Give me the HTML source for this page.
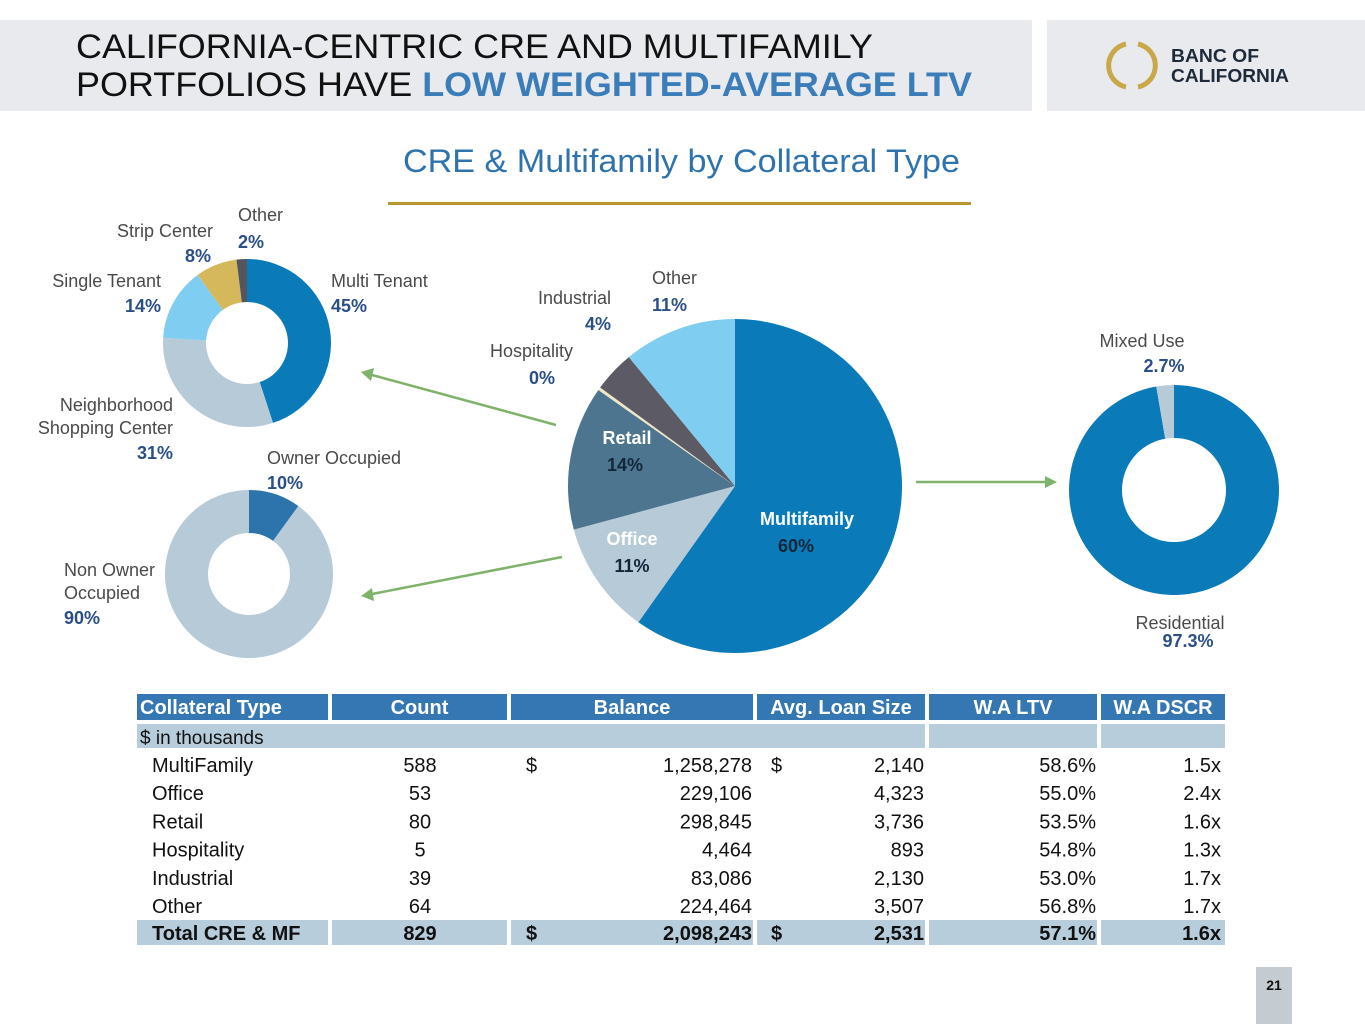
<!DOCTYPE html>
<html><head><meta charset="utf-8">
<style>
html,body{margin:0;padding:0;background:#fff;}
body{width:1365px;height:1024px;overflow:hidden;position:relative;font-family:"Liberation Sans",sans-serif;}
svg{position:absolute;left:0;top:0;}
</style></head>
<body>
<svg id="s" width="1365" height="1024" viewBox="0 0 1365 1024" xmlns="http://www.w3.org/2000/svg" font-family="Liberation Sans, sans-serif">
  <rect x="0" y="20" width="1032" height="91" fill="#e8eaed"/>
  <rect x="1047" y="20" width="318" height="91" fill="#e8eaed"/>
  <text x="76" y="58" font-size="34" fill="#111" textLength="797" lengthAdjust="spacingAndGlyphs">CALIFORNIA-CENTRIC CRE AND MULTIFAMILY</text>
  <text x="76" y="96" font-size="34" fill="#111" textLength="896" lengthAdjust="spacingAndGlyphs">PORTFOLIOS HAVE <tspan fill="#3a7db8" font-weight="bold">LOW WEIGHTED-AVERAGE LTV</tspan></text>
  <g>
    <path d="M1126 44 A22 22 0 0 0 1126 87" fill="none" stroke="#c9a84a" stroke-width="5"/>
    <path d="M1138 44 A22 22 0 0 1 1138 87" fill="none" stroke="#c9a84a" stroke-width="5"/>
  </g>
  <text x="1171" y="62" font-size="18" font-weight="bold" fill="#1e2a3a" textLength="88" lengthAdjust="spacingAndGlyphs">BANC OF</text>
  <text x="1171" y="82" font-size="18" font-weight="bold" fill="#1e2a3a" textLength="118" lengthAdjust="spacingAndGlyphs">CALIFORNIA</text>

  <text x="403" y="172" font-size="32" fill="#2f73ad" textLength="557" lengthAdjust="spacingAndGlyphs">CRE &amp; Multifamily by Collateral Type</text>
  <rect x="388" y="202" width="583" height="3" fill="#b8962e"/>

  <g id="charts"></g>
  <g id="labels" font-size="18"></g>

  <g stroke="#7fb26a" stroke-width="2.5" fill="#7fb26a">
    <line x1="556" y1="425" x2="372" y2="375"/><polygon points="361,372 374,368 371,381" stroke="none"/>
    <line x1="562" y1="557" x2="372" y2="594"/><polygon points="361,596 372,588 374,601" stroke="none"/>
    <line x1="916" y1="482" x2="1046" y2="482"/><polygon points="1057,482 1045,476 1045,488" stroke="none"/>
  </g>

  <g id="table"></g>

  <rect x="1256" y="967" width="36" height="57" fill="#c4ccd2"/>
  <text x="1274" y="990" font-size="14" font-weight="bold" fill="#111" text-anchor="middle">21</text>
</svg>
<script>
const NS="http://www.w3.org/2000/svg";
// Main pie data
const mainCats=["Multifamily","Office","Retail","Hospitality","Industrial","Other"];
const mainVals=[60,11,14,0.3,4,11];
const mainColors=["#0a7bb8","#b7cad8","#4e7590","#efe6c8","#5c5a64","#7fcdf0"];
// Retail donut
const retailCats=["Multi Tenant","Neighborhood Shopping Center","Single Tenant","Strip Center","Other"];
const retailVals=[45,31,14,8,2];
const retailColors=["#0a7bb8","#b7cad8","#7fcdf0","#d6b85c","#555560"];
// Office donut
const officeCats=["Owner Occupied","Non Owner Occupied"];
const officeVals=[10,90];
const officeColors=["#2e74ac","#b7cad8"];
// Multifamily donut
const mfCats=["Residential","Mixed Use"];
const mfVals=[97.3,2.7];
const mfColors=["#0a7bb8","#b7cad8"];

const charts=document.getElementById('charts');
function pt(cx,cy,r,a){return [cx+r*Math.sin(a),cy-r*Math.cos(a)];}
function drawPie(name,cats,vals,colors,cx,cy,r,ri){
  const g=document.createElementNS(NS,'g');
  
  
  const tot=vals.reduce((a,b)=>a+b,0);
  let a0=0;
  vals.forEach((v,i)=>{
    const a1=a0+v/tot*2*Math.PI;
    const large=(a1-a0)>Math.PI?1:0;
    const [x0,y0]=pt(cx,cy,r,a0),[x1,y1]=pt(cx,cy,r,a1);
    let d;
    if(ri>0){
      const [u0,v0]=pt(cx,cy,ri,a0),[u1,v1]=pt(cx,cy,ri,a1);
      d=`M${x0} ${y0} A${r} ${r} 0 ${large} 1 ${x1} ${y1} L${u1} ${v1} A${ri} ${ri} 0 ${large} 0 ${u0} ${v0} Z`;
    } else d=`M${cx} ${cy} L${x0} ${y0} A${r} ${r} 0 ${large} 1 ${x1} ${y1} Z`;
    const p=document.createElementNS(NS,'path');
    p.setAttribute('d',d);p.setAttribute('fill',colors[i]);
    
    
    g.appendChild(p);a0=a1;
  });
  charts.appendChild(g);
}
drawPie('collateral-pie',mainCats,mainVals,mainColors,735,486,167,0);
drawPie('retail-donut',retailCats,retailVals,retailColors,247,343,84,41);
drawPie('office-donut',officeCats,officeVals,officeColors,249,574,84,41);
drawPie('multifamily-donut',mfCats,mfVals,mfColors,1174,490,105,52);

const labels=document.getElementById('labels');
function txt(parent,x,y,s,opt){
  const t=document.createElementNS(NS,'text');
  t.setAttribute('x',x);t.setAttribute('y',y);t.textContent=s;
  t.setAttribute('fill',opt.fill||'#444');
  if(opt.bold)t.setAttribute('font-weight','bold');
  if(opt.anchor)t.setAttribute('text-anchor',opt.anchor);
  if(opt.size)t.setAttribute('font-size',opt.size);
  
  
  parent.appendChild(t);return t;
}
const G='#4a4a4a',B='#2a4f86';
const L=[
 [213,237,'Strip Center',G,0,'end'],[211,262,'8%',B,1,'end'],
 [238,221,'Other',G,0,'start'],[238,248,'2%',B,1,'start'],
 [161,287,'Single Tenant',G,0,'end'],[161,312,'14%',B,1,'end'],
 [331,287,'Multi Tenant',G,0,'start'],[331,312,'45%',B,1,'start'],
 [173,411,'Neighborhood',G,0,'end'],[173,434,'Shopping Center',G,0,'end'],[173,459,'31%',B,1,'end'],
 [267,464,'Owner Occupied',G,0,'start'],[267,489,'10%',B,1,'start'],
 [64,576,'Non Owner',G,0,'start'],[64,599,'Occupied',G,0,'start'],[64,624,'90%',B,1,'start'],
 [611,304,'Industrial',G,0,'end'],[611,330,'4%',B,1,'end'],
 [652,284,'Other',G,0,'start'],[652,311,'11%',B,1,'start'],
 [573,357,'Hospitality',G,0,'end'],[555,384,'0%',B,1,'end'],
 [627,444,'Retail','#fff',1,'middle'],[625,471,'14%','#12263a',1,'middle'],
 [632,545,'Office','#fff',1,'middle'],[632,572,'11%','#12263a',1,'middle'],
 [807,525,'Multifamily','#fff',1,'middle'],[796,552,'60%','#12263a',1,'middle'],
 [1142,347,'Mixed Use',G,0,'middle'],[1164,372,'2.7%',B,1,'middle'],
 [1180,629,'Residential',G,0,'middle'],[1188,647,'97.3%',B,1,'middle']
];
L.forEach((l,i)=>{txt(labels,l[0],l[1],l[2],{fill:l[3],bold:l[4],anchor:l[5],name:'label-'+l[2].toLowerCase().replace(/[^a-z0-9]+/g,'-')});});

// Table
const tbl=document.getElementById('table');


const cols=[[137,328],[332,507],[511,753],[757,925],[929,1097],[1101,1225]];
const hdr=["Collateral Type","Count","Balance","Avg. Loan Size","W.A LTV","W.A DSCR"];
function rect(x,y,w,h,f,n){const r=document.createElementNS(NS,'rect');r.setAttribute('x',x);r.setAttribute('y',y);r.setAttribute('width',w);r.setAttribute('height',h);r.setAttribute('fill',f);tbl.appendChild(r);}
cols.forEach((c,i)=>{
  rect(c[0],694,c[1]-c[0],26,'#3577b3','header-cell');
  txt(tbl,i==0?c[0]+3:(c[0]+c[1])/2,714,hdr[i],{fill:'#fff',bold:1,anchor:i==0?'start':'middle',size:20,name:'header-'+hdr[i].toLowerCase().replace(/[^a-z]+/g,'-')});
});
rect(137,724,788,24,'#b8cddc','units-row');rect(929,724,168,24,'#b8cddc','units-cell');rect(1101,724,124,24,'#b8cddc','units-cell');
txt(tbl,140,744,'$ in thousands',{fill:'#111',size:19,name:'units-label'});
const rows=[
 ["MultiFamily","588","1,258,278","2,140","58.6%","1.5x",1],
 ["Office","53","229,106","4,323","55.0%","2.4x",0],
 ["Retail","80","298,845","3,736","53.5%","1.6x",0],
 ["Hospitality","5","4,464","893","54.8%","1.3x",0],
 ["Industrial","39","83,086","2,130","53.0%","1.7x",0],
 ["Other","64","224,464","3,507","56.8%","1.7x",0],
 ["Total CRE & MF","829","2,098,243","2,531","57.1%","1.6x",1]
];
rows.forEach((r,i)=>{
  const tot=i==6;const y=tot?940:772+i*28.2;
  if(tot)cols.forEach(c=>rect(c[0],920,c[1]-c[0],25,'#b8cddc','total-cell'));
  const o={fill:'#111',size:20,bold:tot?1:0};
  txt(tbl,152,y,r[0],{...o,name:'row-label'});
  txt(tbl,420,y,r[1],{...o,anchor:'middle',name:'count-cell'});
  txt(tbl,752,y,r[2],{...o,anchor:'end',name:'balance-cell'});
  txt(tbl,924,y,r[3],{...o,anchor:'end',name:'avg-loan-cell'});
  txt(tbl,1096,y,r[4],{...o,anchor:'end',name:'ltv-cell'});
  txt(tbl,1221,y,r[5],{...o,anchor:'end',name:'dscr-cell'});
  if(r[6]){txt(tbl,526,y,'$',{...o,name:'dollar-sign'});txt(tbl,771,y,'$',{...o,name:'dollar-sign'});}
});
</script>
</body></html>
